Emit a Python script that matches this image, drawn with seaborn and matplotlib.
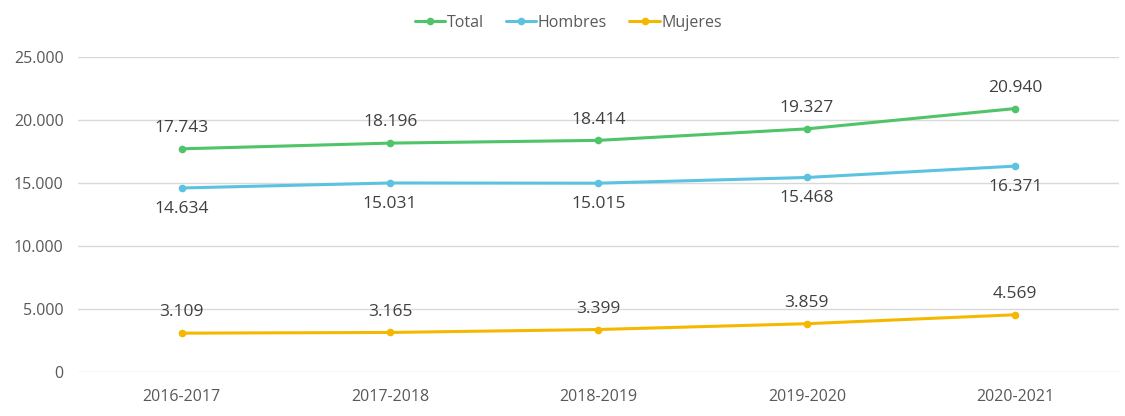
import pandas as pd
import matplotlib.pyplot as plt
import seaborn as sns
from matplotlib.ticker import FuncFormatter

# Data
cursos = ['2016-2017', '2017-2018', '2018-2019', '2019-2020', '2020-2021']
total = [17743, 18196, 18414, 19327, 20940]
hombres = [14634, 15031, 15015, 15468, 16371]
mujeres = [3109, 3165, 3399, 3859, 4569]

series = ['Total', 'Hombres', 'Mujeres']
colores = {'Total': '#4FC468', 'Hombres': '#5BC3E0', 'Mujeres': '#F5B800'}

df = pd.DataFrame({'curso': cursos * 3,
                   'serie': [s for s in series for _ in cursos],
                   'valor': total + hombres + mujeres})

sns.set_style('white')
plt.rcParams['font.family'] = ['Open Sans', 'DejaVu Sans']

fig, ax = plt.subplots(figsize=(11.25, 4.16), dpi=100)
fig.subplots_adjust(left=0.069, right=0.995, top=0.862, bottom=0.105)

sns.lineplot(data=df, x='curso', y='valor', hue='serie', hue_order=series,
             palette=colores, marker='o', markersize=5.5, markeredgewidth=0,
             linewidth=2.2, ax=ax, sort=False)

def miles(v, pos):
    return f'{int(v):,}'.replace(',', '.')

# Data labels
offsets = {'Total': 15, 'Hombres': -15, 'Mujeres': 15}
for s, vals in zip(series, [total, hombres, mujeres]):
    for i, v in enumerate(vals):
        ax.annotate(miles(v, None), (i, v), xytext=(0, offsets[s]),
                    textcoords='offset points', ha='center', va='center',
                    fontsize=12.5, color='#404040')

ax.set_ylim(0, 25000)
ax.set_xlim(-0.5, 4.5)
ax.set_yticks(range(0, 25001, 5000))
ax.yaxis.set_major_formatter(FuncFormatter(miles))
ax.grid(axis='y', color='#D9D9D9', linewidth=1)
ax.set_axisbelow(True)
sns.despine(ax=ax, left=True, bottom=True)
ax.tick_params(axis='both', length=0, labelsize=11.5, labelcolor='#595959')
ax.tick_params(axis='y', pad=10)
ax.tick_params(axis='x', pad=12)
ax.set_xlabel('')
ax.set_ylabel('')

leg = ax.legend(loc='center', bbox_to_anchor=(0.471, 1.11), ncol=3,
                frameon=False, fontsize=11.5, handlelength=1.9,
                handletextpad=0.1, columnspacing=1.4)
for t in leg.get_texts():
    t.set_color('#595959')

fig.savefig('out.png', dpi=100)
